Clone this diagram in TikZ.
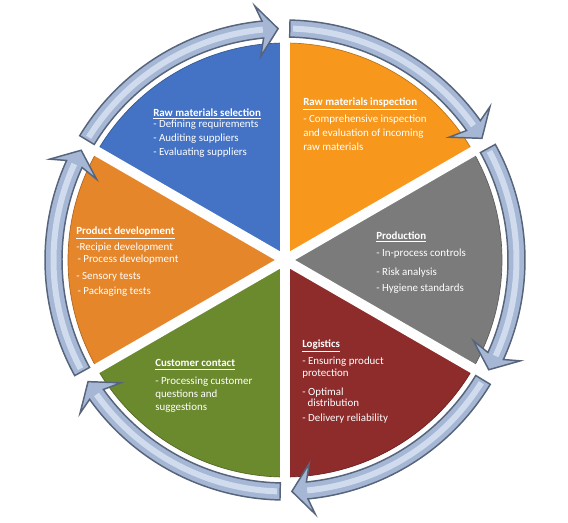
\documentclass[tikz,border=0pt]{standalone}
\usepackage{fontspec}
\setmainfont{Carlito}
\usepackage{tikz}
\usetikzlibrary{positioning,calc}
\definecolor{selblue}{HTML}{4472C4}
\definecolor{insporange}{HTML}{F7981D}
\definecolor{prodgray}{HTML}{7B7B7B}
\definecolor{logred}{HTML}{8E2B2B}
\definecolor{custgreen}{HTML}{6B8A2E}
\definecolor{devorange}{HTML}{E5862B}
\definecolor{ringfill}{HTML}{A5B7D4}
\definecolor{ringlight}{HTML}{D0DBEE}
\definecolor{ringedge}{HTML}{56647C}

\begin{document}
\begin{tikzpicture}[x=0.75pt, y=0.75pt,
    every node/.style={font=\fontsize{8.2}{9.4}\selectfont, text=white, inner sep=0pt, align=left, anchor=north west},
    wedge/.style={draw=#1!75!black, line width=0.5pt, fill=#1},
    gapLine/.style={white, line width=7.5pt},
    ringArrow/.style={fill=ringfill, draw=ringedge, line width=1.1pt, line join=miter},
    ringGlow/.style={ringlight, line width=4.5pt}
]
    \useasboundingbox (-285,-262) rectangle (283,260);
    \fill[white] (-285,-262) rectangle (283,260);
    \coordinate (O) at (0,0);

    % Sektoren
    \foreach \a/\c in {90/selblue, 30/insporange, -30/prodgray, -90/logred, -150/custgreen, 150/devorange}
        \draw[wedge=\c] (O) -- (\a:217) arc[start angle=\a, end angle=\a+60, radius=217] -- cycle;

    % Fugen zwischen den Sektoren
    \foreach \a in {90,30,...,-210}
        \draw[gapLine] (O) -- (\a:224);

    % Ring aus sechs Pfeilen (im Uhrzeigersinn)
    \foreach \b [evaluate=\b as \s using \b+58.8,
                 evaluate=\b as \j using \b+5.5,
                 evaluate=\b as \w using \b+6.8,
                 evaluate=\b as \t using \b+1.7] in {90,30,...,-210}
    {
        \draw[ringArrow] (\s:240) arc[start angle=\s, end angle=\j, radius=240]
            -- (\w:256) -- (\t:231.5) -- (\w:205) -- (\j:223)
            arc[start angle=\j, end angle=\s, radius=223] -- cycle;
        \draw[ringGlow] (\s-0.8:231.5) arc[start angle=\s-0.8, end angle=\j, radius=231.5];
    }

    % Texte
    \node (sel) at (-132,151.8) {\underline{\textbf{Raw materials selection}}\\[-0.9pt]
        - Defining requirements\\[1pt] - Auditing suppliers\\[1pt] - Evaluating suppliers};
    \node (insp) at (18,162.5) {\underline{\textbf{Raw materials inspection}}\\[3.3pt]
        - Comprehensive inspection\\[1pt] and evaluation of incoming\\[1pt] raw materials};
    \node (dev) at (-209,33.5) {\underline{\textbf{Product development}}\\[2.5pt]
        -Recipie development\\[-0.2pt] \hspace{1pt}- Process development\\[3.3pt] - Sensory tests\\[1.8pt] \hspace{1pt}- Packaging tests};
    \node (prod) at (91,28.5) {\underline{\textbf{Production}}\\[3.3pt]
        - In-process controls\\[4.8pt] - Risk analysis\\[2.5pt] - Hygiene standards};
    \node (log) at (17,-79.5) {\underline{\textbf{Logistics}}\\[3.3pt]
        - Ensuring product\\[-0.2pt] protection\\[4.8pt] - Optimal\\[-1.2pt] \hspace{4pt}distribution\\[1.8pt] - Delivery reliability};
    \node (cust) at (-130,-99.5) {\underline{\textbf{Customer contact}}\\[4pt]
        - Processing customer\\[0.3pt] questions and\\[-0.2pt] suggestions};
\end{tikzpicture}
\end{document}
